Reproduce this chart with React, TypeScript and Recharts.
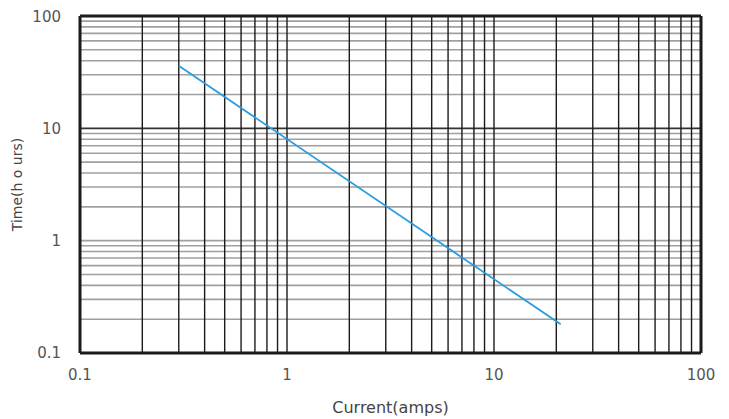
import { LineChart, XAxis, YAxis, Line, ReferenceLine } from 'recharts';

// the curve (amps -> hours)
const current = [0.3, 21];
const hours = [36, 0.18];

// log grid lines, 1-9 in every decade
const gridLines = [
  0.1, 0.2, 0.3, 0.4, 0.5, 0.6, 0.7, 0.8, 0.9,
  1, 2, 3, 4, 5, 6, 7, 8, 9,
  10, 20, 30, 40, 50, 60, 70, 80, 90,
  100,
];
const decadeTicks = [0.1, 1, 10, 100];

const data = current.map((c, i) => ({ current: c, hours: hours[i] }));

const font = '"DejaVu Sans", sans-serif';
const tickStyle = { fontSize: 15, fill: '#555', fontFamily: font };

const App = () => {
  return (
    <div style={{ width: 713, height: 411 }}>
      <LineChart
        width={713}
        height={411}
        data={data}
        margin={{ top: 8, right: 20, left: 0, bottom: 0 }}
      >
        <XAxis
          dataKey="current"
          type="number"
          scale="log"
          domain={[0.1, 100]}
          ticks={decadeTicks}
          allowDataOverflow
          height={66}
          tickSize={0}
          tickMargin={16}
          axisLine={false}
          tick={tickStyle}
          label={{
            value: 'Current(amps)',
            position: 'insideBottom',
            offset: 6,
            style: { fontSize: 16, fill: '#444', fontFamily: font },
          }}
        />
        <YAxis
          type="number"
          scale="log"
          domain={[0.1, 100]}
          ticks={decadeTicks}
          allowDataOverflow
          width={72}
          tickSize={0}
          tickMargin={19}
          axisLine={false}
          tick={tickStyle}
          label={{
            value: 'Time(h o  urs)',
            angle: -90,
            position: 'insideLeft',
            offset: 9,
            style: { fontSize: 14, fill: '#444', fontFamily: font, textAnchor: 'middle' },
          }}
        />
        {gridLines.map((v) => (
          <ReferenceLine key={'h' + v} y={v} stroke={v === 10 ? '#333' : '#a0a0a0'} strokeWidth={1.6} />
        ))}
        {gridLines.map((v) => (
          <ReferenceLine key={'v' + v} x={v} stroke="#1e1a18" strokeWidth={1.4} />
        ))}
        <ReferenceLine y={0.1} stroke="#1e1a18" strokeWidth={3} />
        <ReferenceLine y={100} stroke="#1e1a18" strokeWidth={3} />
        <ReferenceLine x={0.1} stroke="#1e1a18" strokeWidth={3} />
        <ReferenceLine x={100} stroke="#1e1a18" strokeWidth={3} />
        <Line
          type="linear"
          dataKey="hours"
          stroke="#2a9de0"
          strokeWidth={1.8}
          dot={false}
          isAnimationActive={false}
        />
      </LineChart>
    </div>
  );
};

export default App;
